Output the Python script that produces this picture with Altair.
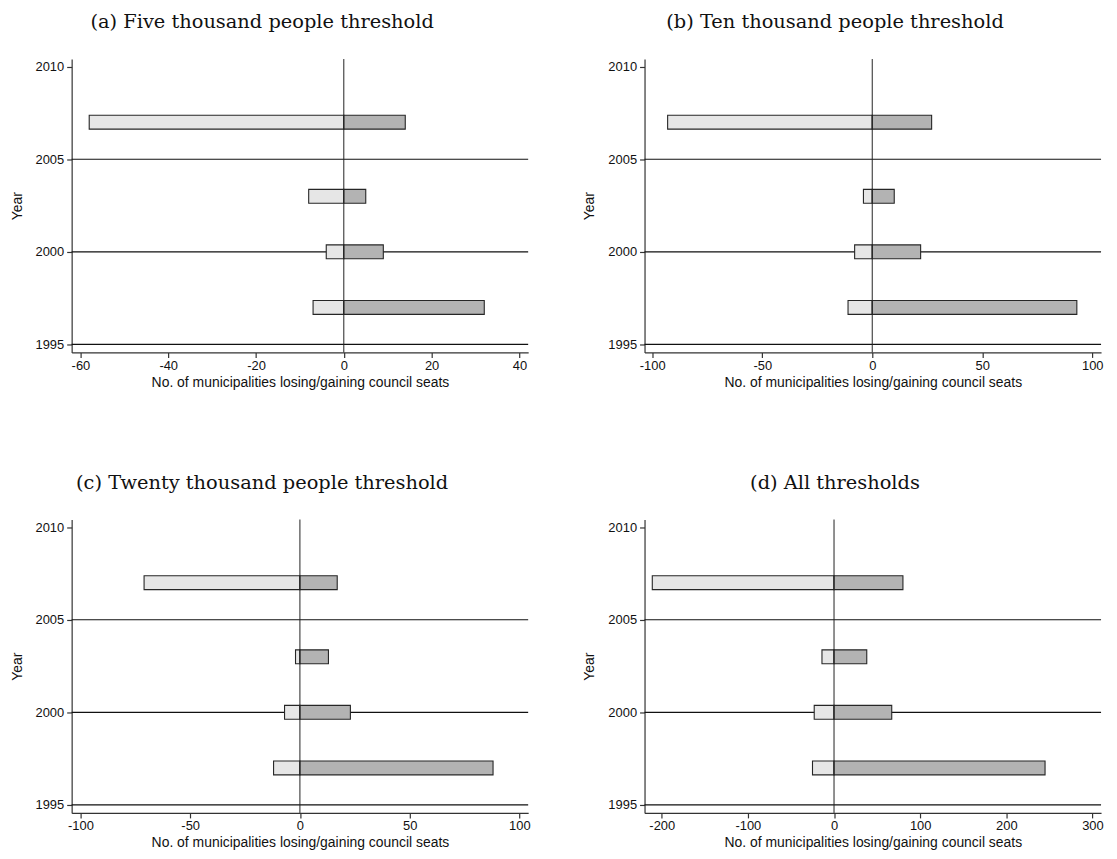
import altair as alt
import pandas as pd

# ---- data ----
years = [1997, 2000, 2003, 2007]
titles = [
    "(a) Five thousand people threshold",
    "(b) Ten thousand people threshold",
    "(c) Twenty thousand people threshold",
    "(d) All thresholds",
]
losing = [
    [-7, -4, -8, -58],
    [-11, -8, -4, -93],
    [-12, -7, -2, -71],
    [-25, -23, -14, -211],
]
gaining = [
    [32, 9, 5, 14],
    [93, 22, 10, 27],
    [88, 23, 13, 17],
    [245, 67, 38, 80],
]
x_domains = [[-62, 42], [-103.5, 104], [-104, 104], [-220, 310]]
x_ticks = [
    [-60, -40, -20, 0, 20, 40],
    [-100, -50, 0, 50, 100],
    [-100, -50, 0, 50, 100],
    [-200, -100, 0, 100, 200, 300],
]
y_ticks = [1995, 2000, 2005, 2010]
ref_years = [1995, 2000, 2005]
y_domain = [1994.57, 2010.41]

XTITLE = "No. of municipalities losing/gaining council seats"
SANS = "Liberation Sans"
SERIF = "DejaVu Serif"
HYPHEN_LABEL = "datum.value < 0 ? '-' + abs(datum.value) : '' + datum.value"


def panel(i):
    df = pd.DataFrame({
        "year": years + years,
        "value": losing[i] + gaining[i],
        "side": ["loss"] * len(years) + ["gain"] * len(years),
    })
    xs = alt.Scale(domain=x_domains[i], nice=False, zero=False)
    ys = alt.Scale(domain=y_domain, nice=False, zero=False)
    xax = alt.Axis(values=x_ticks[i], title=XTITLE, labelExpr=HYPHEN_LABEL,
                   labelPadding=2, titlePadding=3)
    yax = alt.Axis(values=y_ticks, title="Year", format="d")

    bars = alt.Chart(df).transform_calculate(
        ylo="datum.year - 0.375", yhi="datum.year + 0.375", zero="0"
    ).mark_bar(stroke="#262626", strokeWidth=1.1).encode(
        x=alt.X("value:Q", scale=xs, axis=xax),
        x2="zero:Q",
        y=alt.Y("ylo:Q", scale=ys, axis=yax),
        y2="yhi:Q",
        fill=alt.Fill("side:N",
                      scale=alt.Scale(domain=["loss", "gain"],
                                      range=["#e6e6e6", "#b3b3b3"]),
                      legend=None),
    )
    hl = alt.Chart(pd.DataFrame({"yr": ref_years})).mark_rule(
        color="#111111", strokeWidth=1.2
    ).encode(y=alt.Y("yr:Q", scale=ys, axis=yax))
    zl = alt.Chart(pd.DataFrame({"x0": [0]})).mark_rule(
        color="#222222", strokeWidth=1
    ).encode(x=alt.X("x0:Q", scale=xs, axis=xax))

    return alt.layer(hl, bars, zl).properties(
        width=459,
        height=295,
        title=alt.TitleParams(
            text=titles[i], font=SERIF, fontSize=19.5, fontWeight="normal",
            color="#111111", anchor="middle", dx=-38, offset=26,
        ),
    )


chart = alt.concat(
    panel(0), panel(1), panel(2), panel(3),
    columns=2, spacing={"row": 168, "column": 117}, bounds="flush",
).configure_view(stroke=None).configure_axis(
    grid=False,
    domainColor="#333333",
    domainWidth=1.2,
    tickColor="#333333",
    tickWidth=1.2,
    labelColor="#111111",
    titleColor="#111111",
    labelFont=SANS,
    titleFont=SANS,
    labelFontSize=13,
    titleFontSize=14,
    titleFontWeight="normal",
    tickSize=5,
    labelPadding=3,
).configure_axisY(
    titlePadding=11,
).properties(background="white", padding={"left": 2, "top": 2, "right": 5, "bottom": 5})

chart.save("out.html", embed_options={"renderer": "svg", "actions": False})
